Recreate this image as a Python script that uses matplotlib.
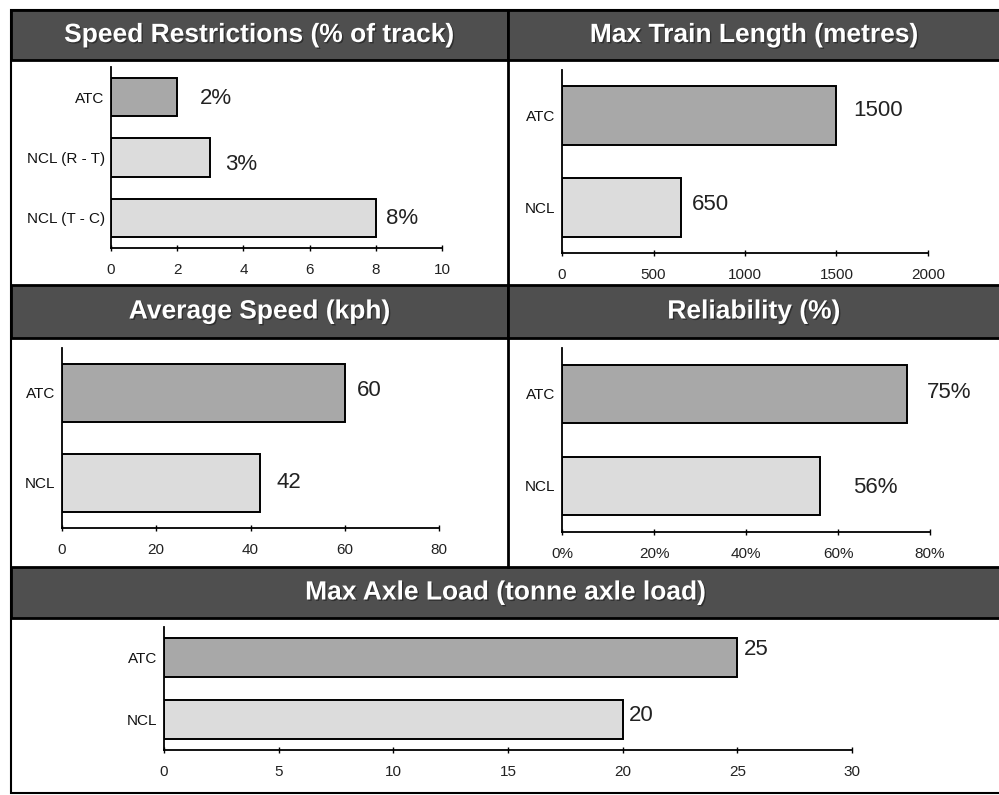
import matplotlib.pyplot as plt
import matplotlib.patheffects as pe
import numpy as np
from matplotlib.patches import Rectangle
from matplotlib.lines import Line2D

W, H = 999, 795

# chart data
speed_cats = ['ATC', 'NCL (R - T)', 'NCL (T - C)']
speed_vals = [2, 3, 8]
length_cats = ['ATC', 'NCL']
length_vals = [1500, 650]
avg_cats = ['ATC', 'NCL']
avg_vals = [60, 42]
rel_cats = ['ATC', 'NCL']
rel_vals = [75, 56]
axle_cats = ['ATC', 'NCL']
axle_vals = [25, 20]

DARK = '#a8a8a8'
LIGHT = '#dcdcdc'
HEAD = '#4f4f4f'

plt.rcParams['font.family'] = ['Liberation Sans', 'DejaVu Sans']
fig = plt.figure(figsize=(W / 100, H / 100), dpi=100)


def box(x0, y0, x1, y1):
    # pixel box (top-left origin) -> figure fraction [l, b, w, h]
    return [x0 / W, 1 - y1 / H, (x1 - x0) / W, (y1 - y0) / H]


def header(y0, y1, title, x0=11, x1=1000):
    fig.add_artist(Rectangle((x0 / W, 1 - y1 / H), (x1 - x0) / W, (y1 - y0) / H,
                             transform=fig.transFigure, facecolor=HEAD,
                             edgecolor='black', linewidth=2, zorder=-1))
    fig.text((x0 + x1) / 2 / W, 1 - (y0 + y1) / 2 / H, title, color='white',
             fontsize=19, fontweight='bold', ha='center', va='center',
             path_effects=[pe.withSimplePatchShadow(offset=(1, -1),
                                                    shadow_rgbFace='#222222',
                                                    alpha=0.7)])


def vline(x, y0, y1):
    fig.add_artist(Line2D([x / W, x / W], [1 - y0 / H, 1 - y1 / H],
                          transform=fig.transFigure, color='black',
                          linewidth=2, zorder=-1))


def panel(rect, cats, vals, xmax, step, labels, offsets, tickfmt='{:g}'):
    ax = fig.add_axes(box(*rect))
    ax.set_zorder(3)
    ypos = np.arange(len(cats))
    colors = [DARK] + [LIGHT] * (len(cats) - 1)
    ax.barh(ypos, vals, height=0.64, color=colors, edgecolor='black',
            linewidth=1.4, zorder=2)
    ax.set_ylim(len(cats) - 0.5, -0.5)
    ax.set_xlim(0, xmax)
    ticks = np.arange(0, xmax + step / 2, step)
    ax.set_xticks(ticks)
    ax.set_xticklabels([tickfmt.format(t) for t in ticks], fontsize=11, color='#222222')
    ax.set_yticks(ypos)
    ax.set_yticklabels(cats, fontsize=11, color='#111111')
    ax.tick_params(axis='y', length=0, pad=4.5)
    ax.tick_params(axis='x', direction='inout', length=5, width=1, pad=8)
    for s in ['top', 'right']:
        ax.spines[s].set_visible(False)
    for s in ['left', 'bottom']:
        ax.spines[s].set_linewidth(1.3)
    ax.patch.set_alpha(0)
    for i, (v, lab, (dx, dy)) in enumerate(zip(vals, labels, offsets)):
        ax.annotate(lab, (v, i), xytext=(dx, -dy), textcoords='offset pixels',
                    ha='left', va='center', fontsize=16, color='#222222')
    return ax


# frame and section headers
fig.add_artist(Rectangle((11 / W, 1 - 793 / H), 990 / W, 783 / H,
                         transform=fig.transFigure, facecolor='white',
                         edgecolor='black', linewidth=1.5, zorder=-2))
header(10, 60, 'Speed Restrictions (% of track)', 11, 508)
header(10, 60, 'Max Train Length (metres)', 508, 1000)
header(285, 338, 'Average Speed (kph)', 11, 508)
header(285, 338, 'Reliability (%)', 508, 1000)
header(567, 618, 'Max Axle Load (tonne axle load)', 11, 1000)
vline(508, 60, 285)
vline(508, 338, 567)

panel((111, 67, 442, 248), speed_cats, speed_vals, 10, 2,
      [f'{v}%' for v in speed_vals], [(23, 1), (15, 7), (10, 1)])
panel((562, 70, 928, 253), length_cats, length_vals, 2000, 500,
      [f'{v}' for v in length_vals], [(17, -5), (11, -3)])
panel((62, 348, 439, 528), avg_cats, avg_vals, 80, 20,
      [f'{v}' for v in avg_vals], [(12, -2), (17, 0)])
panel((562, 348, 930, 532), rel_cats, rel_vals, 80, 20,
      [f'{v}%' for v in rel_vals], [(20, -1), (33, 2)], tickfmt='{:g}%')
panel((164, 627, 852, 750), axle_cats, axle_vals, 30, 5,
      [f'{v}' for v in axle_vals], [(7, -8), (6, -4)])

plt.savefig('out.png', dpi=100, facecolor='white')
